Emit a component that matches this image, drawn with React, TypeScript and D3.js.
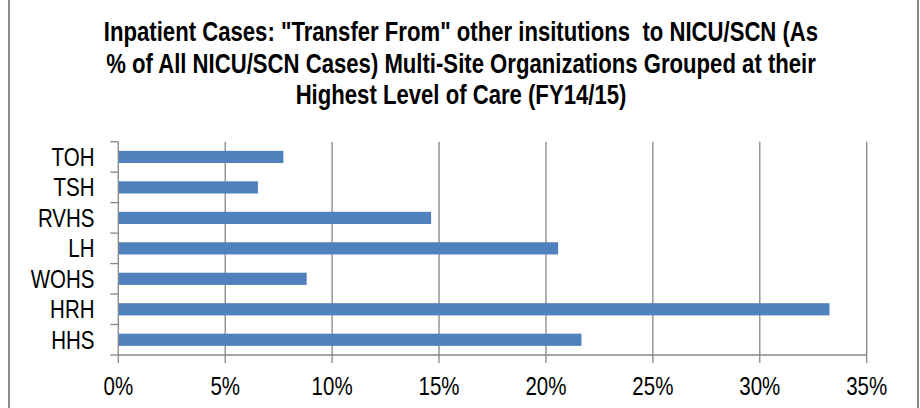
import React from "react";
import * as d3 from "d3";

const categories = ["TOH", "TSH", "RVHS", "LH", "WOHS", "HRH", "HHS"];
const values = [7.72, 6.53, 14.63, 20.57, 8.81, 33.26, 21.66];
const xTicks = [0, 5, 10, 15, 20, 25, 30, 35];
const titleLines = [
  "Inpatient Cases: \"Transfer From\" other insitutions  to NICU/SCN (As",
  "% of All NICU/SCN Cases) Multi-Site Organizations Grouped at their",
  "Highest Level of Care (FY14/15)",
];

const W = 920;
const H = 408;
const FONT = "'Liberation Sans', Arial, sans-serif";
const NARROW = 0.82;

export default function App() {
  const plotLeft = 118.3;
  const plotRight = 866.7;
  const plotTop = 141.7;
  const plotBottom = 355;
  const x = d3.scaleLinear().domain([0, 35]).range([plotLeft, plotRight]);
  const y = d3
    .scaleBand<string>()
    .domain(categories)
    .range([plotTop, plotBottom])
    .paddingInner(0.6)
    .paddingOuter(0.3);
  const step = y.step();
  const boundaries = d3.range(categories.length + 1).map((i) => plotTop + i * step);
  const grid = "#868686";

  return (
    <svg
      width={W}
      height={H}
      style={{ position: "absolute", left: 0, top: 0, display: "block", background: "#fff" }}
    >
      <rect x={0} y={0} width={W} height={H} fill="#fff" />
      <line x1={9} x2={9} y1={0} y2={H} stroke="#8c8c8c" strokeWidth={2} />
      <line x1={918} x2={918} y1={0} y2={H} stroke="#8c8c8c" strokeWidth={2} />
      {titleLines.map((t, i) => (
        <text
          key={i}
          transform={`translate(461,${41 + i * 31.5}) scale(${NARROW},1)`}
          textAnchor="middle"
          fontFamily={FONT}
          fontWeight="bold"
          fontSize={27}
          fill="#000"
          style={{ whiteSpace: "pre" }}
        >
          {t}
        </text>
      ))}
      {xTicks.slice(1).map((t) => (
        <line key={"g" + t} x1={x(t)} x2={x(t)} y1={plotTop} y2={plotBottom} stroke={grid} strokeWidth={1.3} />
      ))}
      {categories.map((c, i) => (
        <rect
          key={c}
          x={x(0)}
          y={y(c)}
          width={x(values[i]) - x(0)}
          height={y.bandwidth()}
          fill="#4F81BD"
        />
      ))}
      <line x1={plotLeft} x2={plotLeft} y1={plotTop} y2={plotBottom} stroke={grid} strokeWidth={1.3} />
      {boundaries.map((b, i) => (
        <line key={"yt" + i} x1={plotLeft - 8} x2={plotLeft} y1={b} y2={b} stroke={grid} strokeWidth={1.3} />
      ))}
      <line x1={plotLeft} x2={plotRight} y1={plotBottom} y2={plotBottom} stroke={grid} strokeWidth={1.3} />
      {xTicks.map((t) => (
        <line key={"xt" + t} x1={x(t)} x2={x(t)} y1={plotBottom} y2={plotBottom + 8} stroke={grid} strokeWidth={1.3} />
      ))}
      {categories.map((c) => (
        <text
          key={"l" + c}
          transform={`translate(94.5,${(y(c) as number) + y.bandwidth() / 2}) scale(${NARROW},1)`}
          dy="0.36em"
          textAnchor="end"
          fontFamily={FONT}
          fontSize={25}
          fill="#000"
        >
          {c}
        </text>
      ))}
      {xTicks.map((t) => (
        <text
          key={"xl" + t}
          transform={`translate(${x(t)},395) scale(${NARROW},1)`}
          textAnchor="middle"
          fontFamily={FONT}
          fontSize={25}
          fill="#000"
        >
          {t + "%"}
        </text>
      ))}
    </svg>
  );
}
